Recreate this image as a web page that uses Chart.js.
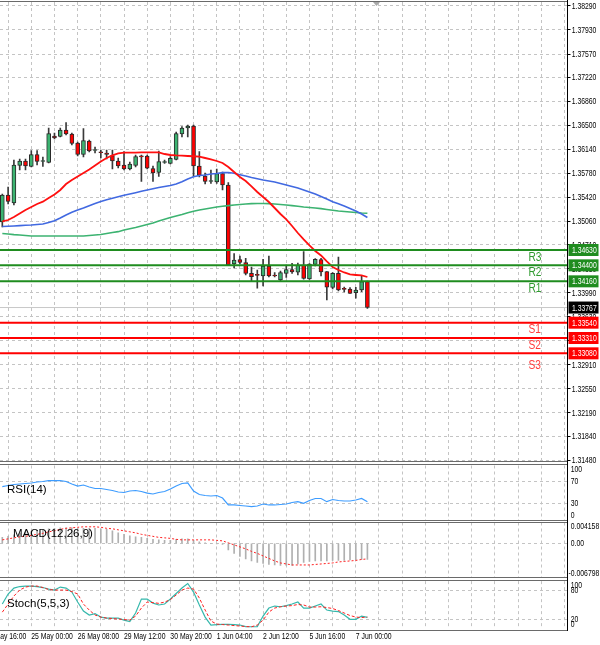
<!DOCTYPE html>
<html><head><meta charset="utf-8">
<script src="https://cdn.jsdelivr.net/npm/chart.js@4.4.1/dist/chart.umd.min.js"></script>
<style>
html,body{margin:0;padding:0;background:#fff;width:600px;height:645px;overflow:hidden}
canvas{position:absolute;left:0;top:0}
</style></head><body>
<canvas id="cMain" width="600" height="645"></canvas>
<canvas id="cRsi" width="600" height="645"></canvas>
<canvas id="cMacd" width="600" height="645"></canvas>
<canvas id="cSto" width="600" height="645"></canvas>
<script>
// ---------- DATA ----------
const opens = [1.35050,1.35455,1.35335,1.35898,1.35965,1.35883,1.36063,1.35958,1.35943,1.36340,
1.36333,1.36430,1.36370,1.36235,1.36063,1.36265,1.36123,1.36100,1.36085,1.36048,
1.35965,1.35905,1.35845,1.35898,1.36040,1.36040,1.35853,1.35793,1.35943,1.35930,
1.35988,1.36370,1.36460,1.36490,1.35890,1.35740,1.35658,1.35650,1.35778,1.35605,
1.34420,1.34488,1.34440,1.34280,1.34255,1.34240,1.34390,1.34250,1.34180,1.34280,
1.34338,1.34296,1.34405,1.34195,1.34413,1.34488,1.34305,1.34070,1.34280,1.34045,
1.34045,1.33990,1.34030,1.34155];
const highs = [1.35470,1.35575,1.35980,1.35995,1.35995,1.36123,1.36123,1.36025,1.36460,1.36385,
1.36460,1.36543,1.36385,1.36250,1.36453,1.36280,1.36175,1.36130,1.36130,1.36130,
1.36010,1.36108,1.35950,1.36055,1.36055,1.36055,1.35890,1.36115,1.35980,1.36033,
1.36400,1.36483,1.36505,1.36505,1.36108,1.35785,1.35830,1.35845,1.35800,1.35643,
1.34578,1.34540,1.34506,1.34375,1.34330,1.34490,1.34540,1.34293,1.34315,1.34405,
1.34431,1.34435,1.34605,1.34428,1.34503,1.34506,1.34308,1.34293,1.34525,1.34075,
1.34068,1.34071,1.34240,1.34165];
const lows = [1.34975,1.35320,1.35305,1.35830,1.35830,1.35875,1.35905,1.35883,1.35935,1.36295,
1.36325,1.36355,1.36205,1.36040,1.36025,1.36100,1.36085,1.36010,1.35995,1.35845,
1.35860,1.35830,1.35830,1.35875,1.35658,1.35845,1.35658,1.35733,1.35928,1.35920,
1.35980,1.36325,1.36325,1.35733,1.35725,1.35620,1.35628,1.35628,1.35530,1.34398,
1.34360,1.34420,1.34255,1.34170,1.34056,1.34090,1.34225,1.34225,1.34170,1.34218,
1.34280,1.34255,1.34191,1.34188,1.34390,1.34240,1.33880,1.34045,1.34015,1.34000,
1.33978,1.33906,1.34005,1.33753];
const closes = [1.35455,1.35358,1.35905,1.35965,1.35890,1.36063,1.35958,1.35968,1.36378,1.36310,
1.36430,1.36370,1.36228,1.36063,1.36273,1.36115,1.36130,1.36089,1.36063,1.35965,
1.35890,1.35845,1.35920,1.36033,1.36028,1.35856,1.35785,1.35958,1.35958,1.36006,
1.36378,1.36460,1.36490,1.35890,1.35748,1.35658,1.35665,1.35778,1.35605,1.34405,
1.34480,1.34443,1.34280,1.34230,1.34250,1.34390,1.34240,1.34240,1.34291,1.34338,
1.34300,1.34405,1.34203,1.34420,1.34490,1.34300,1.34071,1.34281,1.34030,1.34040,
1.33980,1.34030,1.34155,1.33767];
const maFast = [1.35058,1.35080,1.35125,1.35178,1.35230,1.35275,1.35320,1.35355,1.35410,1.35463,
1.35530,1.35620,1.35680,1.35733,1.35785,1.35838,1.35898,1.35958,1.36010,1.36051,
1.36078,1.36090,1.36090,1.36091,1.36093,1.36094,1.36094,1.36093,1.36070,1.36055,
1.36048,1.36045,1.36040,1.36036,1.36030,1.36010,1.35988,1.35965,1.35935,1.35875,
1.35800,1.35725,1.35665,1.35583,1.35500,1.35425,1.35350,1.35260,1.35170,1.35088,
1.34990,1.34885,1.34788,1.34698,1.34615,1.34548,1.34458,1.34375,1.34330,1.34293,
1.34263,1.34255,1.34248,1.34225];
const maMid = [1.34983,1.34986,1.34990,1.34995,1.35001,1.35005,1.35013,1.35020,1.35043,1.35068,
1.35110,1.35155,1.35196,1.35230,1.35260,1.35295,1.35328,1.35358,1.35385,1.35407,
1.35428,1.35451,1.35470,1.35490,1.35511,1.35530,1.35548,1.35568,1.35583,1.35598,
1.35620,1.35655,1.35695,1.35728,1.35748,1.35755,1.35770,1.35778,1.35790,1.35793,
1.35781,1.35760,1.35740,1.35718,1.35700,1.35680,1.35665,1.35650,1.35628,1.35605,
1.35583,1.35560,1.35530,1.35500,1.35470,1.35433,1.35395,1.35355,1.35325,1.35290,
1.35253,1.35215,1.35170,1.35118];
const maSlow = [1.34878,1.34870,1.34860,1.34855,1.34848,1.34840,1.34840,1.34840,1.34840,1.34840,
1.34840,1.34840,1.34840,1.34840,1.34840,1.34848,1.34855,1.34863,1.34878,1.34893,
1.34905,1.34930,1.34950,1.34968,1.34990,1.35013,1.35035,1.35065,1.35091,1.35118,
1.35140,1.35163,1.35190,1.35211,1.35230,1.35245,1.35260,1.35275,1.35286,1.35295,
1.35305,1.35313,1.35320,1.35325,1.35328,1.35328,1.35325,1.35320,1.35313,1.35305,
1.35295,1.35286,1.35275,1.35268,1.35260,1.35250,1.35238,1.35227,1.35215,1.35208,
1.35200,1.35193,1.35185,1.35181];
const resistances = [1.34630, 1.34400, 1.34160];
const resistanceNames = ['R3','R2','R1'];
const supports = [1.33540, 1.33310, 1.33080];
const supportNames = ['S1','S2','S3'];
const priceTicks = [1.38290,1.37930,1.37570,1.37220,1.36860,1.36500,1.36140,1.35780,1.35420,1.35060,
1.34710,1.34350,1.33990,1.33630,1.33270,1.32910,1.32550,1.32190,1.31840,1.31480];
const rsi = [61,63,64.8,65.7,66.7,67.6,69.4,70.4,71.9,72.2,
71.9,70.4,65.7,62,63.9,60.2,57.4,57.4,55.6,53.7,
50.9,50,52.8,53.7,51.9,49,47.2,50,51.9,56.5,
62,66.7,67.6,52.8,46.3,44.4,43.5,44.4,39.8,26.9,
26.9,25.9,25,24,25,28.7,26.9,26.9,27.8,28.7,
31.5,33,30,35.2,38.9,38.9,33,37,35.2,34.3,
34.3,36.1,38.9,33];
const rsiTicks = [100,70,30,0];
const rsiLevels = [70,30];
const macdMain = [0.0012,0.0014,0.0017,0.0020,0.0022,0.0024,0.0026,0.0027,0.0029,0.0030,
0.0031,0.0031,0.0031,0.0030,0.0030,0.0030,0.0030,0.0029,0.0028,0.0025,
0.0021,0.0018,0.0015,0.0013,0.0012,0.0010,0.0008,0.0007,0.0006,0.0006,
0.0008,0.0009,0.0009,0.0006,0.0003,0.0001,0.0000,-0.0001,-0.0002,-0.0013,
-0.0020,-0.0026,-0.0031,-0.0035,-0.0038,-0.0040,-0.0042,-0.0043,-0.0044,-0.0044,
-0.0044,-0.0041,-0.0038,-0.0036,-0.0035,-0.0035,-0.0035,-0.0034,-0.0034,-0.0034,
-0.0033,-0.0033,-0.0032,-0.0032];
const macdSignal = [0.0007,0.0009,0.0011,0.0013,0.0014,0.0016,0.0018,0.0020,0.0023,0.0025,
0.0028,0.0030,0.0031,0.0032,0.0033,0.0033,0.0033,0.0032,0.0030,0.0029,
0.0027,0.0025,0.0023,0.0021,0.0018,0.0016,0.0014,0.0012,0.0011,0.0010,
0.0008,0.0007,0.0007,0.0007,0.0007,0.0007,0.0007,0.0006,0.0005,0.0001,
-0.0003,-0.0007,-0.0011,-0.0016,-0.0020,-0.0025,-0.0030,-0.0035,-0.0039,-0.0041,
-0.0043,-0.0043,-0.0043,-0.0043,-0.0042,-0.0041,-0.0040,-0.0039,-0.0037,-0.0036,
-0.0035,-0.0034,-0.0032,-0.0031];
const macdTicks = [0.004158, 0, -0.006798];
const macdTickLabels = ['0.004158','0.00','-0.006798'];
const stochMain = [52,73,85.5,88.7,89.7,89.7,88.7,86.6,83.4,81.3,
87.6,85.5,77.1,56.2,37.3,28.9,32,24.7,22.6,22.6,
22.6,18.4,15.3,33.1,62.5,62.5,54,50,52,62.5,
74,85.5,95,77,50,24.7,8,9,9.4,9.4,
9,8,4.8,4.4,4.8,26.8,43.6,47.8,46.3,48.8,
52,56.2,43.6,43.6,47.8,52,39.4,37.3,36.3,29,
20,20,26.8,24];
const stochSignal = [35,52,68.8,81.3,87.6,89.7,89.7,86.6,82.4,81.3,
81.3,81.3,78.2,73,52,39.4,29,24.7,22.6,21.6,
20.5,19.5,18.4,26.8,43.6,56.2,55,53.5,56,61.4,
70.9,81.3,85.5,83.4,64.6,39.4,16.4,10,9,8,
6.9,5.9,4.8,4.4,8,18.4,35.2,43.6,46.3,47.8,
48.8,51,50,45.7,45.7,46.3,44.7,42.6,38.4,33.1,
27.9,24.7,23.7,24.7];
const stochTicks = [100,80,20,0];
const stochLevels = [80,20];
const timeLabels = ['23 May 16:00','25 May 00:00','26 May 08:00','29 May 12:00','30 May 20:00','1 Jun 04:00','2 Jun 12:00','5 Jun 16:00','7 Jun 00:00'];
const timeLabelBars = [-3,5,13,21,29,37,45,53,61];

// ---------- STYLE / LAYOUT ----------
const REG = "'Liberation Sans',Arial,sans-serif";
const X_MIN = -0.4, X_MAX = 97.53;
const AXIS_W = 32.5;
const GRID = '#c4c4c4';
const SMALL = 9, SQUEEZE = 0.76;
const lastPrice = closes[closes.length-1];
const pts = arr => arr.map((v,i)=>({x:i,y:v}));
const hline = v => [{x:X_MIN,y:v},{x:X_MAX,y:v}];

// condensed text helper (the reference uses a horizontally squeezed UI font)
function squeezedText(ctx, text, x, y, size, sx, color){
  ctx.save();
  ctx.font = size + "px " + REG; ctx.fillStyle = color;
  ctx.textBaseline = 'middle'; ctx.textAlign = 'left';
  ctx.translate(x, y); ctx.scale(sx, 1); ctx.fillText(text, 0, 0);
  ctx.restore();
}

function xScale(){
  return {
    type:'linear', min:X_MIN, max:X_MAX, offset:false,
    afterBuildTicks: s => { const t=[]; for(let v=1; v<=97; v+=4) t.push({value:v}); s.ticks=t; },
    grid:{ color:GRID, lineWidth:1, drawTicks:false, offset:false },
    border:{ display:false, dash:[3,3] },
    ticks:{ display:false },
    afterFit: s => { s.height = 0; }
  };
}
function indicatorY(min,max,levels){
  return {
    type:'linear', position:'right', min:min, max:max,
    afterBuildTicks: s => { s.ticks = levels.map(v=>({value:v})); },
    grid:{ color:GRID, lineWidth:1, drawTicks:false },
    border:{ display:false, dash:[3,3] },
    ticks:{ display:false },
    afterFit: s => { s.width = AXIS_W; }
  };
}
const base = { responsive:false, animation:false, devicePixelRatio:1, events:[],
  plugins:{ legend:{display:false}, tooltip:{enabled:false} } };

function decor(name, nameX, nameY, tickVals, tickTexts){
  return { id:'decor', afterDraw(chart){
    const ctx=chart.ctx, a=chart.chartArea, ys=chart.scales.y;
    ctx.save();
    ctx.fillStyle='#000'; ctx.textBaseline='middle'; ctx.textAlign='left';
    ctx.font = "11.5px "+REG;
    ctx.fillText(name, nameX, nameY);
    ctx.restore();
    tickVals.forEach((v,k)=>{
      let py = ys.getPixelForValue(v);
      py = Math.min(Math.max(py, a.top+4), a.bottom-4);
      const t = tickTexts[k];
      squeezedText(ctx, t, a.right + (t[0]==='-' ? 1 : 3.2), py, SMALL, SQUEEZE, '#000');
    });
  }};
}

// ---------- MAIN PRICE CHART ----------
const mainDecor = { id:'mainDecor', afterDraw(chart){
  const ctx=chart.ctx, y=chart.scales.y, a=chart.chartArea;
  priceTicks.forEach(v => squeezedText(ctx, v.toFixed(5), a.right+4.2, y.getPixelForValue(v)+0.5, SMALL, SQUEEZE, '#000'));
  ctx.save();
  ctx.fillStyle='#a8a8a8'; ctx.beginPath(); ctx.moveTo(373,2); ctx.lineTo(380,2); ctx.lineTo(376.5,6); ctx.closePath(); ctx.fill();
  ctx.restore();
  resistances.forEach((v,k)=> squeezedText(ctx, resistanceNames[k], 528.5, y.getPixelForValue(v)+7.2, 12, 0.85, '#2f9a2f'));
  supports.forEach((v,k)=> squeezedText(ctx, supportNames[k], 528.5, y.getPixelForValue(v)+(k===2?12.5:7.2), 12, 0.85, '#ff3b3b'));
  function box(v,bg){
    const py=y.getPixelForValue(v);
    ctx.save(); ctx.fillStyle=bg; ctx.fillRect(a.right+1, py-6, 30, 12); ctx.restore();
    squeezedText(ctx, v.toFixed(5), a.right+4.5, py+0.5, SMALL, SQUEEZE, '#fff');
  }
  resistances.forEach(v=>box(v,'#1f8c1f'));
  supports.forEach(v=>box(v,'#ff0000'));
  box(lastPrice,'#000');
}};

const bull = '#3cb371', bear = '#ff0000';
new Chart(document.getElementById('cMain'), {
  type:'bar',
  data:{ datasets:[
    ...resistances.map(v=>({type:'line', data:hline(v), borderColor:'#1f8c1f', borderWidth:2, pointRadius:0, order:0})),
    ...supports.map(v=>({type:'line', data:hline(v), borderColor:'#ff0000', borderWidth:2, pointRadius:0, order:0})),
    {type:'line', data:pts(maFast), borderColor:'#ff1010', borderWidth:1.8, pointRadius:0, order:1},
    {type:'line', data:pts(maMid), borderColor:'#4169e1', borderWidth:1.6, pointRadius:0, order:2},
    {type:'line', data:pts(maSlow), borderColor:'#3cb371', borderWidth:1.6, pointRadius:0, order:3},
    {type:'bar', data:opens.map((o,i)=>({x:i,y:[o,closes[i]]})), grouped:false, barThickness:4, minBarLength:1,
      backgroundColor: c => closes[c.dataIndex]>=opens[c.dataIndex] ? bull : bear,
      borderColor:'#2a2a2a', borderWidth:1, borderSkipped:false, order:4},
    {type:'bar', data:lows.map((l,i)=>({x:i,y:[l,highs[i]]})), grouped:false, barThickness:1,
      backgroundColor:'#3a3a3a', borderWidth:0, order:5},
    {type:'line', data:hline(lastPrice), borderColor:'#c8c8c8', borderWidth:1, pointRadius:0, order:6}
  ]},
  options:{ ...base,
    layout:{ padding:{ top:2, bottom:645-461, left:0, right:0 } },
    scales:{
      x: xScale(),
      y:{ type:'linear', position:'right', min:1.31465, max:1.3835,
        afterBuildTicks: s => { s.ticks = priceTicks.map(v=>({value:v})); },
        grid:{ color:GRID, lineWidth:1, drawTicks:true, tickLength:3, tickColor:'#000' },
        border:{ display:false, dash:[3,3] },
        ticks:{ display:false },
        afterFit: s => { s.width = AXIS_W; } }
    }
  },
  plugins:[mainDecor]
});

// ---------- RSI ----------
new Chart(document.getElementById('cRsi'), {
  type:'line',
  data:{ datasets:[ {data:pts(rsi), borderColor:'#3d9cff', borderWidth:1.2, pointRadius:0} ] },
  options:{ ...base,
    layout:{ padding:{ top:465.5, bottom:645-519.5, left:0, right:0 } },
    scales:{ x:xScale(), y:indicatorY(0,100,rsiLevels) } },
  plugins:[decor('RSI(14)', 7, 490, rsiTicks, rsiTicks.map(String))]
});

// ---------- MACD ----------
new Chart(document.getElementById('cMacd'), {
  type:'bar',
  data:{ datasets:[
    {type:'line', data:pts(macdSignal), borderColor:'#ff2020', borderWidth:1, borderDash:[2,2], pointRadius:0, order:0},
    {type:'bar', data:pts(macdMain), grouped:false, barThickness:1, backgroundColor:'#b0b0b0', borderWidth:0, order:1}
  ]},
  options:{ ...base,
    layout:{ padding:{ top:522.5, bottom:645-577.5, left:0, right:0 } },
    scales:{ x:xScale(), y:indicatorY(-0.006798,0.004158,[0]) } },
  plugins:[decor('MACD(12,26,9)', 13, 533.5, macdTicks, macdTickLabels)]
});

// ---------- STOCHASTIC ----------
const frame = { id:'frame', afterDraw(chart){
  const ctx=chart.ctx, xs=chart.scales.x;
  ctx.save();
  ctx.strokeStyle='#6a6a6a'; ctx.lineWidth=1;
  [1.5,461.5,464.5,520.5,522.5,577.5,580.5,630.5].forEach(yy=>{ ctx.beginPath(); ctx.moveTo(0,yy); ctx.lineTo(568,yy); ctx.stroke(); });
  ctx.strokeStyle='#000'; ctx.beginPath(); ctx.moveTo(567.5,0); ctx.lineTo(567.5,631); ctx.stroke();
  ctx.restore();
  timeLabelBars.forEach((b,k)=> squeezedText(ctx, timeLabels[k], xs.getPixelForValue(b), 636.5, SMALL, SQUEEZE, '#000'));
}};
new Chart(document.getElementById('cSto'), {
  type:'line',
  data:{ datasets:[
    {data:pts(stochSignal), borderColor:'#ff2020', borderWidth:1, borderDash:[3,2], pointRadius:0, order:0},
    {data:pts(stochMain), borderColor:'#35b8ac', borderWidth:1.2, pointRadius:0, order:1}
  ]},
  options:{ ...base,
    layout:{ padding:{ top:581.15, bottom:645-628.85, left:0, right:0 } },
    scales:{ x:xScale(), y:indicatorY(0,100,stochLevels) } },
  plugins:[decor('Stoch(5,5,3)', 7, 604, stochTicks, stochTicks.map(String)), frame]
});
</script>
</body></html>
